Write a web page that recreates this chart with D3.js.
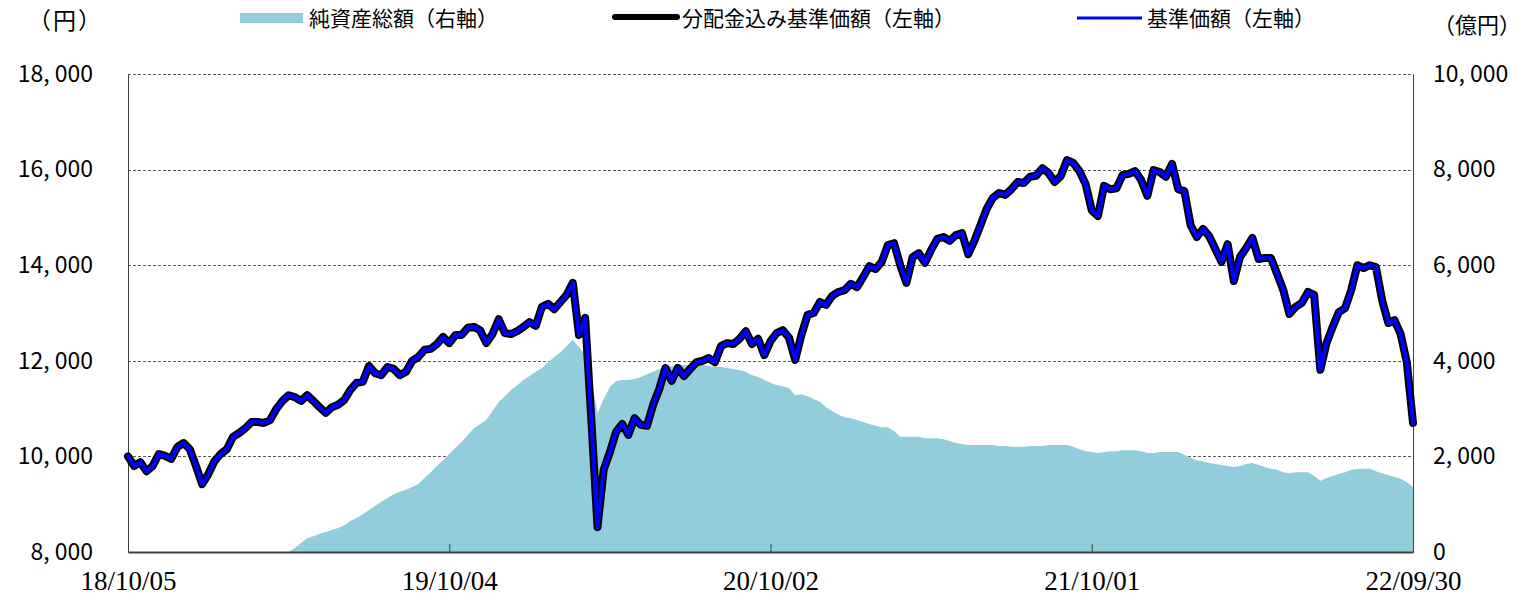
<!DOCTYPE html>
<html><head><meta charset="utf-8">
<script src="https://cdn.jsdelivr.net/npm/d3@7"></script>
<style>body{margin:0;background:#fff}</style>
</head><body><svg id="c" width="1523" height="609"></svg>
<script>
// ---- data ----
const startDate = "2018-10-05";
const endDate = "2022-09-30";
const xTickDates = ["2018-10-05","2019-10-04","2020-10-02","2021-10-01","2022-09-30"];
const xTickLabels = ["18/10/05","19/10/04","20/10/02","21/10/01","22/09/30"];
const leftTicks = [8000,10000,12000,14000,16000,18000];
const rightTicks = [0,2000,4000,6000,8000,10000];
const legendLabels = ["純資産総額（右軸）","分配金込み基準価額（左軸）","基準価額（左軸）"];
const leftUnit = "（円）";
const rightUnit = "（億円）";

// weekly (Fridays) values, 円
const adjustedPrice = [
 10000, 9800, 9880, 9690, 9800,10050,10010, 9950,10200,10280,
 10150, 9800, 9420, 9630, 9900,10050,10150,10410,10490,10590,
 10720,10720,10700,10760,10990,11160,11280,11240,11160,11280,
 11160,11030,10910,11030,11080,11180,11390,11540,11560,11890,
 11740,11700,11870,11830,11700,11770,12000,12080,12230,12250,
 12350,12500,12370,12540,12540,12690,12710,12640,12370,12560,
 12870,12580,12560,12620,12710,12810,12730,13130,13190,13080,
 13230,13380,13630,12540,12900,10760, 8520, 9720,10090,10510,
 10680,10450,10800,10660,10640,11080,11410,11850,11580,11850,
 11680,11830,11970,12000,12060,11970,12310,12370,12350,12460,
 12620,12350,12460,12120,12410,12580,12640,12480,12020,12540,
 12960,13000,13230,13170,13360,13440,13480,13610,13540,13750,
 13980,13920,14070,14420,14460,14000,13630,14170,14250,14050,
 14320,14550,14590,14510,14630,14670,14230,14510,14840,15180,
 15410,15510,15470,15590,15740,15720,15850,15870,16030,15930,
 15740,15870,16200,16140,15970,15700,15150,15030,15660,15590,
 15610,15890,15910,15970,15780,15450,15990,15950,15850,16120,
 15590,15550,14840,14590,14760,14610,14340,14070,14440,13670,
 14170,14360,14570,14130,14150,14150,13820,13480,12980,13130,
 13210,13440,13380,11810,12370,12710,13020,13100,13480,14000,
 13940,14000,13960,13270,12790,12850,12560,11970,10700
];
// no distributions paid: the base price equals the distribution-adjusted price
const basePrice = adjustedPrice;
// weekly net assets, 億円
const netAssets = [
 0,0,0,0,0,0,0,0,0,0,
 0,0,0,0,0,0,0,0,0,0,
 0,0,0,0,0,0,0,84,190,290,
 330,380,420,460,500,560,650,710,790,880,
 960,1050,1130,1210,1260,1300,1360,1420,1550,1670,
 1800,1920,2050,2180,2300,2450,2590,2680,2760,2950,
 3140,3260,3390,3490,3600,3680,3770,3850,3970,4080,
 4180,4310,4440,4290,4120,3600,2910,3200,3450,3580,
 3600,3600,3620,3660,3720,3770,3830,3870,3890,3910,
 3910,3910,3910,3910,3890,3870,3870,3850,3830,3810,
 3770,3700,3660,3600,3540,3490,3470,3430,3280,3300,
 3260,3200,3140,3030,2950,2870,2820,2800,2760,2720,
 2680,2640,2610,2610,2530,2410,2410,2410,2410,2380,
 2380,2380,2360,2320,2280,2260,2240,2240,2240,2240,
 2240,2220,2220,2200,2200,2200,2220,2220,2220,2240,
 2240,2240,2240,2200,2150,2110,2090,2070,2090,2110,
 2110,2130,2130,2130,2110,2070,2070,2090,2090,2090,
 2090,2030,1970,1920,1900,1860,1840,1820,1800,1780,
 1800,1840,1860,1820,1780,1740,1720,1670,1650,1670,
 1670,1670,1590,1490,1550,1590,1630,1670,1720,1740,
 1740,1740,1690,1650,1610,1570,1530,1460,1360
];

// ---- chart ----
const parse = d3.utcParse("%Y-%m-%d");
const dates = d3.utcFriday.range(parse(startDate), d3.utcDay.offset(parse(endDate), 1));
const svg = d3.select("#c");
const M = {l:128, r:1413, t:74, b:552};
const x = d3.scaleUtc().domain([parse(startDate), parse(endDate)]).range([M.l, M.r]);
const yL = d3.scaleLinear().domain([8000,18000]).range([M.b, M.t]);
const yR = d3.scaleLinear().domain([0,10000]).range([M.b, M.t]);
const cjk = "'Noto Sans CJK JP','Noto Sans',sans-serif";
const fmt = v => d3.format(",")(v).replace(",", ", ");

svg.append("rect").attr("width",1523).attr("height",609).attr("fill","#fff");

// gridlines
svg.append("g").selectAll("line").data(leftTicks.filter(v => v > 8000)).join("line")
  .attr("x1", M.l).attr("x2", M.r)
  .attr("y1", d => Math.round(yL(d)) + 0.5).attr("y2", d => Math.round(yL(d)) + 0.5)
  .attr("stroke", "#595959").attr("stroke-width", 1).attr("stroke-dasharray", "3,2");

// net assets area
const n = Math.min(dates.length, netAssets.length);
const area = d3.area().x((d,i) => x(dates[i])).y0(yR(0)).y1(d => yR(d));
svg.append("path").datum(netAssets.slice(0, n)).attr("d", area).attr("fill", "#92CDDC");

// axes
const gl = svg.append("g").attr("transform", `translate(${M.l},0)`)
  .call(d3.axisLeft(yL).tickValues(leftTicks).tickSize(0).tickPadding(35).tickFormat(fmt));
const gr = svg.append("g").attr("transform", `translate(${M.r},0)`)
  .call(d3.axisRight(yR).tickValues(rightTicks).tickSize(0).tickPadding(20).tickFormat(fmt));
[gl, gr].forEach(g => {
  g.select(".domain").attr("stroke", "#404040").attr("stroke-width", 1);
  g.selectAll("text").attr("font-family", cjk).attr("font-size", 23).attr("fill", "#000");
});
const gx = svg.append("g").attr("transform", `translate(0,${M.b})`)
  .call(d3.axisBottom(x).tickValues(xTickDates.map(parse))
    .tickFormat((d,i) => xTickLabels[i]).tickSizeInner(-8).tickSizeOuter(0));
gx.select(".domain").attr("stroke", "#404040").attr("stroke-width", 2);
gx.selectAll(".tick line").attr("stroke", "#404040");
gx.selectAll("text").attr("y", 38).attr("dy", 0)
  .attr("font-family", "'Liberation Serif','Times New Roman',serif")
  .attr("font-size", 27).attr("fill", "#000");

// price lines
const m = Math.min(dates.length, adjustedPrice.length);
const line = d3.line().x((d,i) => x(dates[i])).y(d => yL(d));
svg.append("path").datum(adjustedPrice.slice(0, m)).attr("d", line)
  .attr("fill", "none").attr("stroke", "#000").attr("stroke-width", 8)
  .attr("stroke-linejoin", "round").attr("stroke-linecap", "round");
svg.append("path").datum(basePrice.slice(0, m)).attr("d", line)
  .attr("fill", "none").attr("stroke", "#0000FF").attr("stroke-width", 4)
  .attr("stroke-linejoin", "round").attr("stroke-linecap", "round");

// legend
const lg = svg.append("g").attr("font-family", cjk).attr("font-size", 21).attr("fill", "#000");
lg.append("rect").attr("x", 240).attr("y", 13).attr("width", 63).attr("height", 10).attr("fill", "#92CDDC");
lg.append("text").attr("x", 309).attr("y", 26).text(legendLabels[0]);
lg.append("line").attr("x1", 615).attr("x2", 677).attr("y1", 17).attr("y2", 17)
  .attr("stroke", "#000").attr("stroke-width", 6).attr("stroke-linecap", "round");
lg.append("text").attr("x", 682).attr("y", 26).text(legendLabels[1]);
lg.append("line").attr("x1", 1077).attr("x2", 1142).attr("y1", 18).attr("y2", 18)
  .attr("stroke", "#0000FF").attr("stroke-width", 3);
lg.append("text").attr("x", 1147).attr("y", 26).text(legendLabels[2]);

// units
svg.append("text").attr("x", 28).attr("y", 29).attr("font-family", cjk).attr("font-size", 23)
  .attr("letter-spacing", 2).text(leftUnit);
svg.append("text").attr("x", 1433).attr("y", 33).attr("font-family", cjk).attr("font-size", 22)
  .text(rightUnit);
</script></body></html>
